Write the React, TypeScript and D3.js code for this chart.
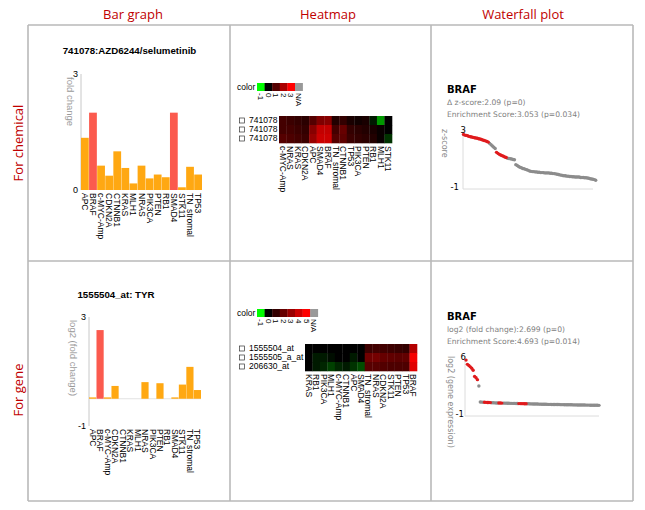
import React from 'react';
import * as d3 from 'd3';

// ---------- data ----------
const barGenes = ['APC', 'BRAF', 'c-MYC-Amp', 'CDKN2A', 'CTNNB1', 'KRAS', 'MLH1', 'NRAS', 'PIK3CA', 'PTEN', 'RB1', 'SMAD4', 'STK11', 'TN_stromal', 'TP53'];
const chemFoldChange = [1.35, 2.0, 0.63, 0.37, 1.0, 0.57, 0.17, 0.63, 0.3, 0.4, 0.33, 2.0, 0.07, 0.6, 0.4];
const chemHighlight = ['BRAF', 'SMAD4'];
const geneLog2Fold = [0.05, 2.52, 0.05, 0.47, 0, 0, 0, 0.61, 0, 0.57, 0, 0.05, 0.52, 1.17, 0.32];
const geneHighlight = ['BRAF'];

const heatCols1 = ['c-MYC-Amp', 'NRAS', 'KRAS', 'CDKN2A', 'APC', 'SMAD4', 'BRAF', 'TN_stromal', 'CTNNB1', 'TP53', 'PIK3CA', 'PTEN', 'RB1', 'MLH1', 'STK11'];
const heatRows1 = ['741078', '741078', '741078'];
const heat1Row1 = [0.8, 0.7, 0.6, 0.5, 1.0, 1.5, 1.6, 0.4, 0.6, 0.3, 0.2, 0.3, -0.1, -0.6, 0.0];
const heat1Row2 = [0.8, 0.8, 0.7, 0.6, 1.6, 2.3, 2.3, 0.8, 1.2, 0.6, 0.5, 0.4, 0.3, 0.1, 0.0];
const heat1Row3 = [1.0, 0.9, 0.8, 0.7, 1.8, 2.4, 2.4, 1.0, 1.1, 0.7, 0.6, 0.5, 0.4, 0.1, -0.2];
const legend1 = ['-1', '0', '1', '2', '3', 'N/A'];

const heatCols2 = ['KRAS', 'RB1', 'PIK3CA', 'MLH1', 'c-MYC-Amp', 'CTNNB1', 'APC', 'SMAD4', 'TN_stromal', 'NRAS', 'CDKN2A', 'STK11', 'PTEN', 'TP53', 'BRAF'];
const heatRows2 = ['1555504_at', '1555505_a_at', '206630_at'];
const heat2Row1 = [0, 0, 0, 0, 0, 0, 0, 0, 1.2, 1.3, 1.3, 1.2, 1.1, 1.0, 3.5];
const heat2Row2 = [0, -0.1, -0.1, -0.05, 0, 0, -0.1, 0, 2.2, 2.3, 2.0, 1.9, 1.8, 1.9, 4.8];
const heat2Row3 = [0, -0.1, -0.15, -0.25, -0.15, -0.1, -0.2, -0.3, 1.7, 1.7, 1.6, 1.5, 1.5, 1.5, 4.4];
const legend2 = ['-1', '0', '1', '2', '3', '4', '5', 'N/A'];

// waterfall 1: z-scores of cell lines, sorted
const wf1Scores = [
  2.69, 2.64, 2.62, 2.60, 2.55, 2.53, 2.51, 2.48, 2.46, 2.44, 2.42, 2.39, 2.37, 2.33, 2.30, 2.26, 2.24, 2.19, 2.15,
  2.06, 1.97, 1.88, 1.79, 1.70,
  1.43, 1.36, 1.29, 1.25, 1.20, 1.16, 1.11, 1.07,
  1.02, 1.00, 0.98, 0.96, 0.93, 0.91,
  0.57, 0.51, 0.44, 0.39, 0.35, 0.30, 0.28, 0.24, 0.21, 0.17,
  0.12, 0.10, 0.08, 0.08, 0.06, 0.06, 0.03, 0.03, 0.01, 0.01, 0.01, -0.01, -0.01, -0.01, -0.01, -0.03, -0.03, -0.06, -0.06, -0.08,
  -0.10, -0.12, -0.15, -0.17, -0.19, -0.21, -0.21, -0.24, -0.24, -0.26, -0.26, -0.28, -0.28, -0.30, -0.30, -0.30, -0.30,
  -0.33, -0.33, -0.33, -0.35, -0.35, -0.37, -0.39, -0.42, -0.44, -0.46, -0.48, -0.53,
];
const wf1Hits = [0, 1, 2, 3, 4, 5, 6, 7, 8, 9, 10, 11, 12, 13, 14, 15, 16, 17, 18, 24, 25, 26, 27, 28, 29, 30, 31];

// waterfall 2: log2 gene expression, sorted
const wf2Values = [
  5.62, 5.1, 4.95, 4.79, 4.62, 4.37, 3.62, 3.45, 3.22, 2.44,
  0.48, 0.46, 0.45, 0.44, 0.43, 0.42, 0.41, 0.40, 0.39, 0.38, 0.37, 0.36, 0.36, 0.35, 0.35, 0.34, 0.34, 0.33, 0.33, 0.32,
  0.32, 0.31, 0.31, 0.30, 0.30, 0.29, 0.29, 0.28, 0.28, 0.27, 0.27,
  0.26, 0.26, 0.25, 0.25, 0.24, 0.24, 0.23, 0.23, 0.22, 0.22, 0.21, 0.21, 0.20, 0.20, 0.19, 0.19, 0.18, 0.18, 0.18, 0.17,
  0.17, 0.17, 0.16, 0.16, 0.16, 0.15, 0.15, 0.15, 0.14, 0.14, 0.14, 0.13, 0.13, 0.13, 0.12, 0.12, 0.12, 0.11, 0.11, 0.11,
  0.10, 0.10, 0.10, 0.09, 0.09, 0.09, 0.08, 0.08, 0.08, 0.07, 0.07, 0.07, 0.06,
];
const wf2Hits = [0, 1, 2, 3, 4, 5, 6, 7, 8, 13, 14, 15, 16, 17, 23, 24, 25, 37, 38, 39, 40, 41, 42];

// ---------- styles ----------
const ARIAL = 'Liberation Sans, Arial, sans-serif';
const TAHOMA = 'DejaVu Sans, Verdana, sans-serif';
const ORANGE = '#ffa812';
const RED = '#fb5a4e';

const BarPanel = ({ title, tx, ty, values, highlight, domain, ticks, x0, x1, yTop, yBot, yLabel, ylx, labelY }) => {
  const x = d3.scaleBand().domain(barGenes).range([x0, x1]).paddingInner(0.04);
  const y = d3.scaleLinear().domain(domain).range([yBot, yTop]);
  const zero = y(0);
  return (
    <g>
      <text x={tx} y={ty} textAnchor="middle" fontFamily={ARIAL} fontWeight="bold" fontSize={9.7}>{title}</text>
      <line x1={x0} x2={x0} y1={yTop} y2={yBot} stroke="#c8c8c8" />
      {domain[0] < 0 && <line x1={x0} x2={x1} y1={zero} y2={zero} stroke="#e2e2e2" />}
      {ticks.map((t) => (
        <text key={t} x={x0 - 3} y={y(t)} dy="0.35em" textAnchor="end" fontFamily={ARIAL} fontSize={9}>{t}</text>
      ))}
      <text transform={`translate(${ylx},${yTop + 3}) rotate(90)`} dy="0.35em" fontFamily={ARIAL} fontSize={9.5} fill="#9a9a9a">{yLabel}</text>
      {barGenes.map((g, i) => (
        <rect key={g} x={x(g)} width={x.bandwidth()} y={Math.min(y(values[i]), zero)} height={Math.abs(zero - y(values[i]))}
          fill={highlight.includes(g) ? RED : ORANGE} />
      ))}
      {barGenes.map((g) => (
        <text key={g} transform={`translate(${x(g) + x.bandwidth() / 2},${labelY}) rotate(90)`} dy="0.35em"
          fontFamily={ARIAL} fontSize={8.5}>{g}</text>
      ))}
    </g>
  );
};

const HeatPanel = ({ cols, rows, data, maxV, legend, lx, ly, hx0, hx1, hy0, hy1 }) => {
  const color = d3.scaleLinear<string>().domain([-1, 0, maxV]).range(['#00ff00', '#000000', '#ff0000']);
  const x = d3.scaleBand().domain(cols).range([hx0, hx1]);
  const y = d3.scaleBand().domain(d3.range(rows.length).map(String)).range([hy0, hy1]);
  const cell = 7.6;
  return (
    <g>
      <text x={237} y={ly + 4} dy="0.35em" fontFamily={ARIAL} fontSize={8.5}>color</text>
      {legend.map((l, i) => (
        <g key={l}>
          <rect x={lx + i * cell} y={ly} width={cell + 0.3} height={8} fill={l === 'N/A' ? '#999' : color(+l)} />
          <text transform={`translate(${lx + i * cell + cell / 2},${ly + 10}) rotate(90)`} dy="0.35em" fontFamily={ARIAL} fontSize={8}>{l}</text>
        </g>
      ))}
      {rows.map((r, ri) => {
        const cy = y(String(ri)) + y.bandwidth() / 2;
        return (
          <g key={ri}>
            <rect x={239.5} y={cy - 2.5} width={5} height={5} fill="none" stroke="#333" strokeWidth={0.7} />
            <text x={249} y={cy} dy="0.35em" fontFamily={ARIAL} fontSize={8.5}>{r}</text>
            {cols.map((c, ci) => (
              <rect key={c} x={x(c)} y={y(String(ri))} width={x.bandwidth() + 0.3} height={y.bandwidth() + 0.3} fill={color(data[ri][ci])} />
            ))}
          </g>
        );
      })}
      {cols.map((c) => (
        <text key={c} transform={`translate(${x(c) + x.bandwidth() / 2},${hy1 + 3}) rotate(90)`} dy="0.35em" fontFamily={ARIAL} fontSize={8.5}>{c}</text>
      ))}
    </g>
  );
};

const WaterfallPanel = ({ values, hits, lines, ty, domain, ax, ay0, ay1, axEnd, px0, px1, yLabel, ylx, tickTopX, tickBotX }) => {
  const x = d3.scaleLinear().domain([0, values.length - 1]).range([px0, px1]);
  const y = d3.scaleLinear().domain(domain).range([ay1 - 2, ay0 + 1]);
  return (
    <g fontFamily={TAHOMA}>
      <text x={447} y={ty} fontWeight="bold" fontSize={10}>BRAF</text>
      <text x={447} y={ty + 12} fontSize={7.6} fill="#808080">{lines[0]}</text>
      <text x={447} y={ty + 24} fontSize={7.6} fill="#808080">{lines[1]}</text>
      <line x1={ax} x2={ax} y1={ay0} y2={ay1} stroke="#dcdcdc" />
      <line x1={ax} x2={axEnd} y1={ay1} y2={ay1} stroke="#dcdcdc" />
      <text x={tickTopX} y={y(domain[1])} dy="0.35em" textAnchor="end" fontSize={8.5}>{domain[1]}</text>
      <text x={tickBotX} y={y(domain[0])} dy="0.35em" textAnchor="end" fontSize={8.5}>{domain[0]}</text>
      <text transform={`translate(${ylx},${ay0}) rotate(90)`} dy="0.35em" fontSize={8} fill="#8a8a8a">{yLabel}</text>
      {values.map((v, i) => (!hits.includes(i) &&
        <circle key={i} cx={x(i)} cy={y(v)} r={1.7} fill="#8c8c8c" />
      ))}
      {values.map((v, i) => (hits.includes(i) &&
        <circle key={i} cx={x(i)} cy={y(v)} r={1.7} fill="#e01a1c" />
      ))}
    </g>
  );
};

const App = () => {
  const gx = [28, 230, 431, 633];
  const gy = [25, 261, 501];
  const hdr = 'Open Sans, Noto Sans, sans-serif';
  return (
    <svg width={645} height={510} style={{ position: 'absolute', left: 0, top: 0, background: '#fff' }}>
      <rect width={645} height={510} fill="#fff" />
      {gx.map((v) => <line key={'v' + v} x1={v} x2={v} y1={gy[0]} y2={gy[2]} stroke="#b9b9b9" strokeWidth={1.6} />)}
      {gy.map((v) => <line key={'h' + v} x1={gx[0]} x2={gx[3]} y1={v} y2={v} stroke="#b9b9b9" strokeWidth={1.4} />)}

      <text x={133} y={14} dy="0.35em" textAnchor="middle" fontFamily={hdr} fontSize={13} fill="#c00000">Bar graph</text>
      <text x={328} y={14} dy="0.35em" textAnchor="middle" fontFamily={hdr} fontSize={13} fill="#c00000">Heatmap</text>
      <text x={523} y={14} dy="0.35em" textAnchor="middle" fontFamily={hdr} fontSize={13} fill="#c00000">Waterfall plot</text>
      <text transform="translate(18.5,143) rotate(-90)" dy="0.35em" textAnchor="middle" fontFamily={hdr} fontSize={13} fill="#c00000">For chemical</text>
      <text transform="translate(18.5,390) rotate(-90)" dy="0.35em" textAnchor="middle" fontFamily={hdr} fontSize={13} fill="#c00000">For gene</text>

      <BarPanel title="741078:AZD6244/selumetinib" tx={129.5} ty={54} values={chemFoldChange} highlight={chemHighlight}
        domain={[0, 3]} ticks={[3, 0]} x0={81} x1={202} yTop={74} yBot={190} yLabel="fold change" ylx={70} labelY={193} />
      <BarPanel title="1555504_at: TYR" tx={116} ty={297.5} values={geneLog2Fold} highlight={geneHighlight}
        domain={[-1, 3]} ticks={[3, -1]} x0={89} x1={201} yTop={317} yBot={426} yLabel="log2 (fold change)" ylx={73} labelY={429} />

      <HeatPanel cols={heatCols1} rows={heatRows1} data={[heat1Row1, heat1Row2, heat1Row3]} maxV={3} legend={legend1}
        lx={257} ly={83} hx0={279} hx1={392} hy0={116} hy1={143} />
      <HeatPanel cols={heatCols2} rows={heatRows2} data={[heat2Row1, heat2Row2, heat2Row3]} maxV={5} legend={legend2}
        lx={257} ly={309} hx0={305} hx1={417} hy0={344} hy1={371} />

      <WaterfallPanel values={wf1Scores} hits={wf1Hits} ty={93}
        lines={['\u0394 z-score:2.09 (p=0)', 'Enrichment Score:3.053 (p=0.034)']}
        domain={[-1, 3]} ax={463} ay0={129} ay1={189} axEnd={593} px0={463.5} px1={595.7}
        yLabel="z-score" ylx={445} tickTopX={466} tickBotX={459} />
      <WaterfallPanel values={wf2Values} hits={wf2Hits} ty={320}
        lines={['log2 (fold change):2.699 (p=0)', 'Enrichment Score:4.693 (p=0.014)']}
        domain={[-1, 6]} ax={465} ay0={356} ay1={416} axEnd={599} px0={466} px1={599}
        yLabel="log2 (gene expression)" ylx={451} tickTopX={466} tickBotX={464} />
    </svg>
  );
};

export default App;
